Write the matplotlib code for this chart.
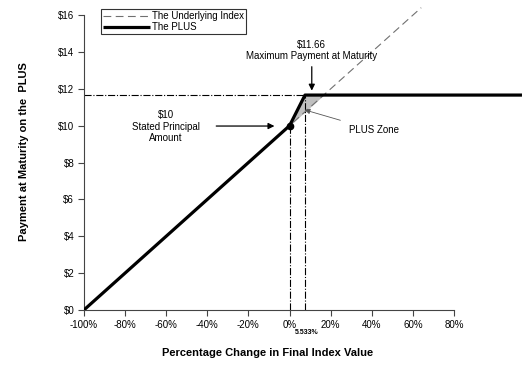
import matplotlib.pyplot as plt
import numpy as np

plt.rcParams['font.family'] = ['Liberation Sans', 'DejaVu Sans']

# values
pct_ticks = [-100, -80, -60, -40, -20, 0, 20, 40, 60, 80]
pct_tick_labels = ['-100%', '-80%', '-60%', '-40%', '-20%', '0%', '20%', '40%', '60%', '80%']
pay_ticks = [0, 2, 4, 6, 8, 10, 12, 14, 16]
pay_tick_labels = ['$0', '$2', '$4', '$6', '$8', '$10', '$12', '$14', '$16']

principal = 10.0
cap_pay = 11.66
cap_pct = 7.5          # where the cap kink sits on the drawn axis
cap_label = '5.533%'

plus_x = [-100, 0, cap_pct, 113]
plus_y = [0, principal, cap_pay, cap_pay]
index_x = [-100, 64]
index_y = [principal * (1 + v / 100) for v in index_x]

fig = plt.figure(figsize=(5.31, 3.66), dpi=100)
ax = fig.add_axes([0.158, 0.153, 0.825, 0.831])

ax.set_xlim(-100, 113)
ax.set_ylim(0, 16.5)

# grey PLUS zone between the PLUS and the index
zx = np.linspace(0, (cap_pay / principal - 1) * 100, 50)
z_index = principal * (1 + zx / 100)
z_plus = np.interp(zx, plus_x, plus_y)
ax.fill_between(zx, z_index, z_plus, color='#c0c0c0', lw=0, zorder=1)

ax.plot(index_x, index_y, color='#707070', lw=0.8, dashes=(7, 4), zorder=2,
        label='The Underlying Index')
ax.plot(plus_x, plus_y, color='black', lw=2.3, solid_capstyle='butt', zorder=3,
        label='The PLUS')
ax.plot([0], [principal], 'o', color='black', ms=4.5, zorder=4)

# dash-dot guides
ax.plot([-100, cap_pct], [cap_pay, cap_pay], color='black', lw=0.8, ls='-.', zorder=2)
ax.plot([0, 0], [0, principal], color='black', lw=0.8, ls='-.', zorder=2)
ax.plot([cap_pct, cap_pct], [0, cap_pay], color='black', lw=0.8, ls='-.', zorder=2)

# annotations
ax.annotate('$11.66\nMaximum Payment at Maturity', xy=(10.8, 11.75), xytext=(10.8, 13.5),
            ha='center', va='bottom', fontsize=7, linespacing=1.2,
            arrowprops=dict(arrowstyle='-|>', color='black', lw=0.9, mutation_scale=9))
ax.text(-60, 9.95, '$10\nStated Principal\nAmount', ha='center', va='center',
        fontsize=7, linespacing=1.2)
ax.annotate('', xy=(-6, 9.98), xytext=(-37, 9.98),
            arrowprops=dict(arrowstyle='-|>', color='black', lw=0.9, mutation_scale=9))
ax.text(29, 9.76, 'PLUS Zone', ha='left', va='center', fontsize=7)
ax.annotate('', xy=(6, 10.9), xytext=(26, 10.25),
            arrowprops=dict(arrowstyle='-|>', color='#555555', lw=0.6, mutation_scale=8))
ax.text(cap_pct + 1, -1.2, cap_label, ha='center', va='center', fontsize=5,
        fontweight='bold')

ax.set_xticks(pct_ticks)
ax.set_xticklabels(pct_tick_labels)
ax.set_yticks(pay_ticks)
ax.set_yticklabels(pay_tick_labels)
ax.tick_params(axis='both', labelsize=7, length=4, width=0.8, pad=3, color='#444444')

for s in ['top', 'right']:
    ax.spines[s].set_visible(False)
ax.spines['bottom'].set_bounds(-100, 80)
ax.spines['left'].set_bounds(0, 16)
for s in ['bottom', 'left']:
    ax.spines[s].set_linewidth(0.8)
    ax.spines[s].set_color('#444444')

ax.set_xlabel('Percentage Change in Final Index Value', fontsize=8, fontweight='bold')
ax.xaxis.set_label_coords(0.42, -0.125)
ax.set_ylabel('Payment at Maturity on the  PLUS', fontsize=8, fontweight='bold')
ax.yaxis.set_label_coords(-0.125, 0.52)

leg = ax.legend(loc='upper left', bbox_to_anchor=(101 / 531, 1 - 9 / 366),
                bbox_transform=fig.transFigure, fontsize=7, frameon=True, fancybox=False,
                edgecolor='black', handlelength=4.8, borderpad=0.2, labelspacing=0.15,
                handletextpad=0.2, borderaxespad=0)
leg.get_frame().set_linewidth(0.8)

fig.savefig('out.png', dpi=100)
